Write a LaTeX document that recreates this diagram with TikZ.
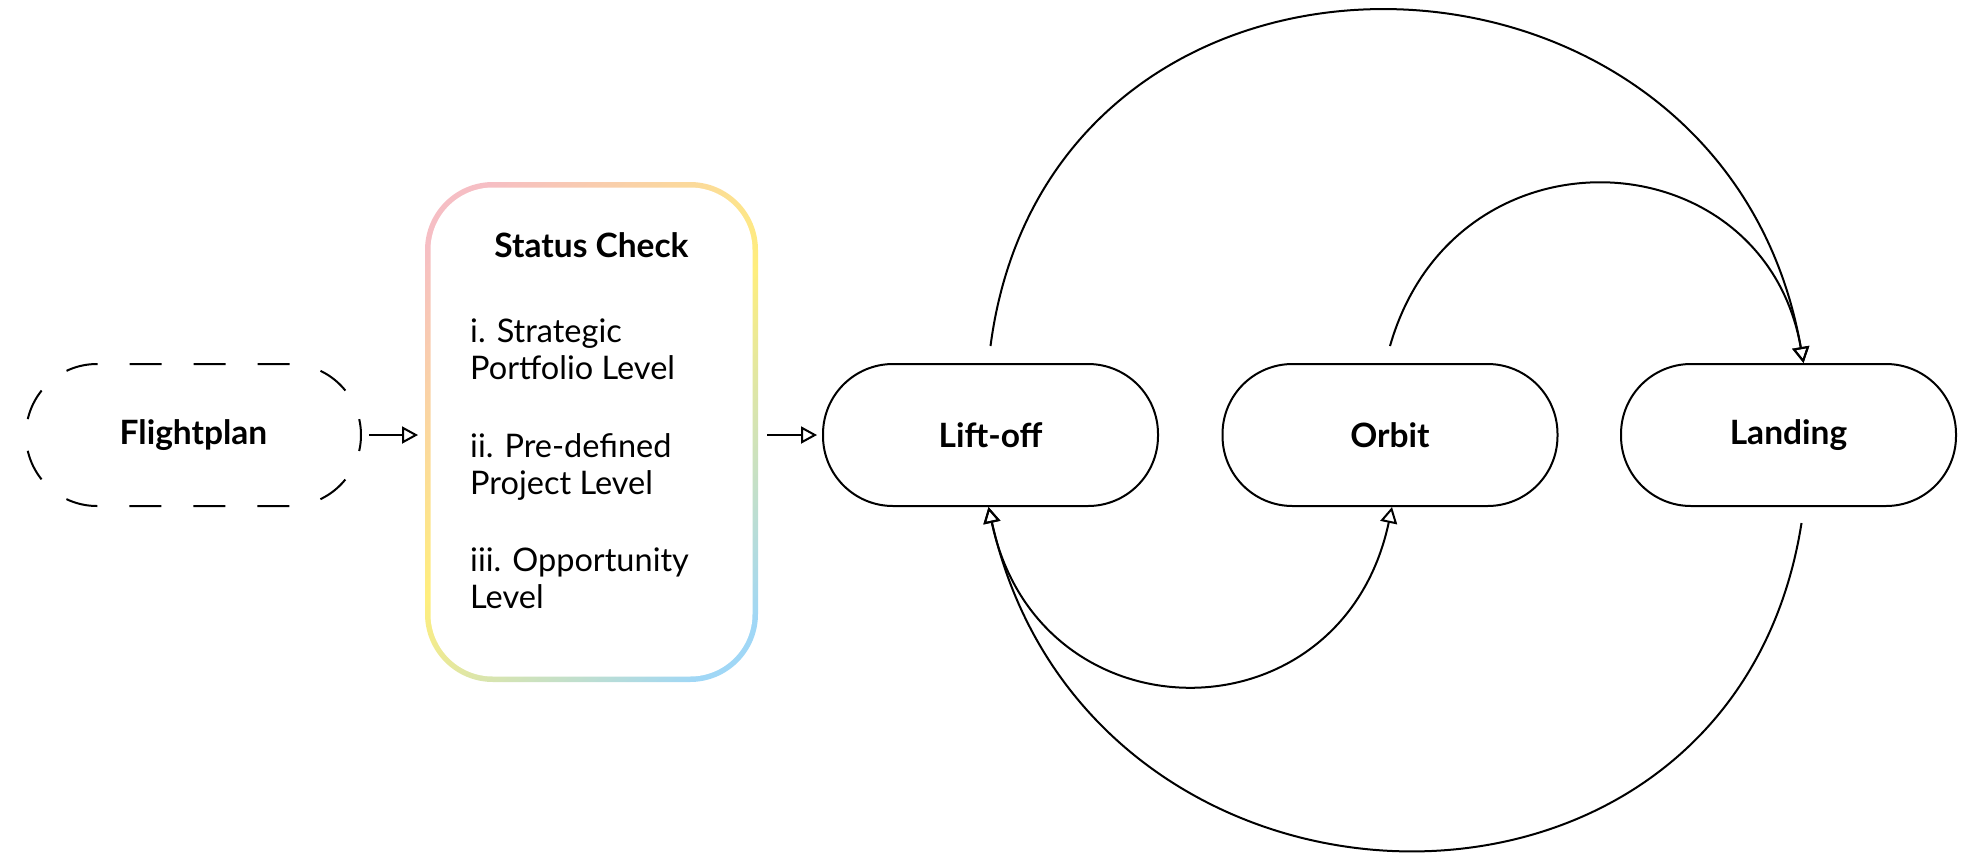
\documentclass[tikz,border=0pt]{standalone}
\usepackage{fontspec}
\setmainfont{Lato}
\usetikzlibrary{arrows.meta}

\definecolor{edgepink}{RGB}{246,190,196}
\definecolor{edgeyellow}{RGB}{255,238,125}
\definecolor{edgeblue}{RGB}{160,215,246}

% diagonal rainbow used for the border of the status box
\pgfdeclarehorizontalshading{borderglow}{100bp}{%
  color(0bp)=(edgepink); color(20bp)=(edgepink);
  color(50bp)=(edgeyellow);
  color(80bp)=(edgeblue); color(100bp)=(edgeblue)}

\begin{document}
\begin{tikzpicture}[x=1pt, y=-1pt,
  stage/.style={draw, line width=2pt, rounded corners=70pt,
    minimum width=335pt, minimum height=142pt, inner sep=0pt,
    font=\fontsize{33.5pt}{37pt}\selectfont\bfseries},
  arr/.style={-{Triangle[open, length=16pt, width=17pt]}, line width=2pt},
  arrboth/.style={{Triangle[open, length=16pt, width=17pt]}-{Triangle[open, length=16pt, width=17pt]}, line width=2pt},
  bodytext/.style={font=\fontsize{32.5pt}{37pt}\selectfont, inner sep=0pt}]

\useasboundingbox (0,0) rectangle (1961,854);

% stages
\node[stage, draw=none] (fp) at (193.5,435) {Flightplan};
\node[stage] (lo) at (990.5,435) {Lift-off};
\node[stage] (or) at (1390,435) {Orbit};
\node[stage] (la) at (1788.5,435) {Landing};

% dashed outline of the optional first stage, traced from its right end
\draw[line width=2pt, dash pattern=on 32pt off 32pt, dash phase=16pt]
  ([xshift=-1pt]fp.east) arc[start angle=0, end angle=90, radius=71pt]
  -- ++(-193pt,0pt) arc[start angle=90, end angle=270, radius=71pt]
  -- ++(193pt,0pt) arc[start angle=270, end angle=360, radius=71pt] -- cycle;

% status check box with a gradient border
\node[minimum width=333pt, minimum height=500pt, inner sep=0pt, outer sep=0pt] (st) at (591.5,432) {};
\shade[shading=borderglow, shading angle=-45, rounded corners=68pt]
  (st.south west) rectangle (st.north east);
\fill[white, rounded corners=62.5pt]
  ([shift={(5.5pt,5.5pt)}]st.south west) rectangle ([shift={(-5.5pt,-5.5pt)}]st.north east);

\node[bodytext, font=\fontsize{33.5pt}{37pt}\selectfont\bfseries, anchor=base] (sttitle)
  at ([yshift=-75pt]st.north) {Status Check};
\node[bodytext, anchor=base west] (s1a) at ([xshift=45pt, yshift=-160pt]st.north west) {i. Strategic};
\node[bodytext, anchor=base west] (s1b) at ([yshift=-37pt]s1a.base west) {Portfolio Level};
\node[bodytext, anchor=base west] (s2a) at ([yshift=-78pt]s1b.base west) {ii. Pre-defined};
\node[bodytext, anchor=base west] (s2b) at ([yshift=-37pt]s2a.base west) {Project Level};
\node[bodytext, anchor=base west] (s3a) at ([yshift=-77pt]s2b.base west) {iii. Opportunity};
\node[bodytext, anchor=base west] (s3b) at ([yshift=-37pt]s3a.base west) {Level};

% straight connectors
\draw[arr] ([xshift=7pt]fp.east) -- ([xshift=-7pt]st.west |- fp.east);
\draw[arr] ([xshift=9pt]st.east |- lo.west) -- ([xshift=-5pt]lo.west);

% arcs over the top
\draw[arr] ([yshift=17pt]lo.north) .. controls +(60,-458) and +(-80,-458) .. ([xshift=15pt]la.north);
\draw[arr] ([yshift=17pt]or.north) .. controls +(65,-227) and +(-40,-227) .. ([xshift=15pt]la.north);

% arcs underneath
\draw[arrboth] ([xshift=-2pt]lo.south) .. controls +(50,236) and +(-50,236) .. ([xshift=2pt]or.south);
\draw[arr] ([xshift=13pt, yshift=-16pt]la.south) .. controls +(-70,446) and +(100,446) .. ([xshift=-2pt]lo.south);

\end{tikzpicture}
\end{document}
